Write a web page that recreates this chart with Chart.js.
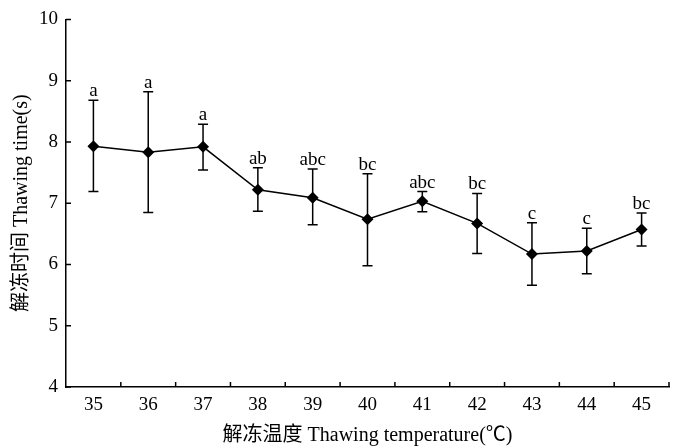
<!DOCTYPE html>
<html>
<head>
<meta charset="utf-8">
<script src="https://cdn.jsdelivr.net/npm/chart.js@4"></script>
<style>
  html, body { margin: 0; padding: 0; background: #fff; }
  #wrap { width: 675px; height: 448px; }
</style>
</head>
<body>
<div id="wrap"><canvas id="thawing"></canvas></div>
<script>
const temps = ['35', '36', '37', '38', '39', '40', '41', '42', '43', '44', '45'];
const meanTime = [7.93, 7.83, 7.92, 7.22, 7.09, 6.74, 7.03, 6.67, 6.17, 6.22, 6.57];
const errUp = [8.68, 8.82, 8.29, 7.58, 7.56, 7.48, 7.19, 7.16, 6.68, 6.59, 6.84];
const errDown = [7.19, 6.85, 7.54, 6.87, 6.65, 5.98, 6.86, 6.18, 5.66, 5.85, 6.30];
const letters = ['a', 'a', 'a', 'ab', 'abc', 'bc', 'abc', 'bc', 'c', 'c', 'bc'];

const serif = "'Liberation Serif', 'Noto Sans CJK SC', serif";

// error bars, significance letters and inward tick marks
const extras = {
  id: 'extras',
  afterDatasetsDraw(chart) {
    const c = chart.ctx;
    const xs = chart.scales.x, ys = chart.scales.y;
    c.save();
    c.strokeStyle = '#000';
    c.lineWidth = 1.5;
    temps.forEach((t, i) => {
      const px = xs.getPixelForValue(i);
      const top = ys.getPixelForValue(errUp[i]);
      const bot = ys.getPixelForValue(errDown[i]);
      c.beginPath();
      c.moveTo(px, top); c.lineTo(px, bot);
      c.moveTo(px - 5, top); c.lineTo(px + 5, top);
      c.moveTo(px - 5, bot); c.lineTo(px + 5, bot);
      c.stroke();
      c.fillStyle = '#000';
      c.font = '19px ' + serif;
      c.textAlign = 'center';
      c.textBaseline = 'alphabetic';
      c.fillText(letters[i], px, top - 4);
    });
    // ticks
    const area = chart.chartArea;
    c.beginPath();
    for (let i = 0; i < temps.length - 1; i++) {
      const bx = (xs.getPixelForValue(i) + xs.getPixelForValue(i + 1)) / 2;
      c.moveTo(bx, area.bottom); c.lineTo(bx, area.bottom - 5);
    }
    c.moveTo(area.right, area.bottom); c.lineTo(area.right, area.bottom - 5);
    ys.ticks.forEach(tk => {
      const py = ys.getPixelForValue(tk.value);
      c.moveTo(area.left, py); c.lineTo(area.left + 5, py);
    });
    c.stroke();
    c.restore();
  }
};

new Chart(document.querySelector('#thawing').getContext('2d'), {
  type: 'line',
  data: {
    labels: temps,
    datasets: [{
      data: meanTime,
      borderColor: '#000',
      borderWidth: 1.5,
      backgroundColor: '#000',
      pointStyle: 'rectRot',
      pointRadius: 6,
      pointBorderWidth: 0,
      tension: 0
    }]
  },
  options: {
    responsive: true,
    maintainAspectRatio: false,
    animation: false,
    layout: { padding: { top: 12, right: 4, bottom: 0, left: 0 } },
    plugins: { legend: { display: false }, tooltip: { enabled: false } },
    scales: {
      x: {
        offset: true,
        grid: { display: false, drawTicks: false },
        border: { display: true, color: '#000', width: 1.5 },
        ticks: { color: '#000', font: { family: serif, size: 19 }, padding: 7 },
        title: {
          display: true,
          text: '解冻温度 Thawing temperature(℃)',
          color: '#000',
          font: { family: serif, size: 20 },
          padding: { top: 10, bottom: 0 }
        },
        afterFit(s) { s.height = 61; }
      },
      y: {
        min: 4,
        max: 10,
        grid: { display: false, drawTicks: false },
        border: { display: true, color: '#000', width: 1.5 },
        ticks: { stepSize: 1, color: '#000', font: { family: serif, size: 19 }, padding: 8 },
        title: {
          display: true,
          text: '解冻时间 Thawing time(s)',
          color: '#000',
          font: { family: serif, size: 20 },
          padding: { top: 10, bottom: 4 }
        },
        afterFit(s) { s.width = 66; }
      }
    }
  },
  plugins: [extras]
});
</script>
</body>
</html>
